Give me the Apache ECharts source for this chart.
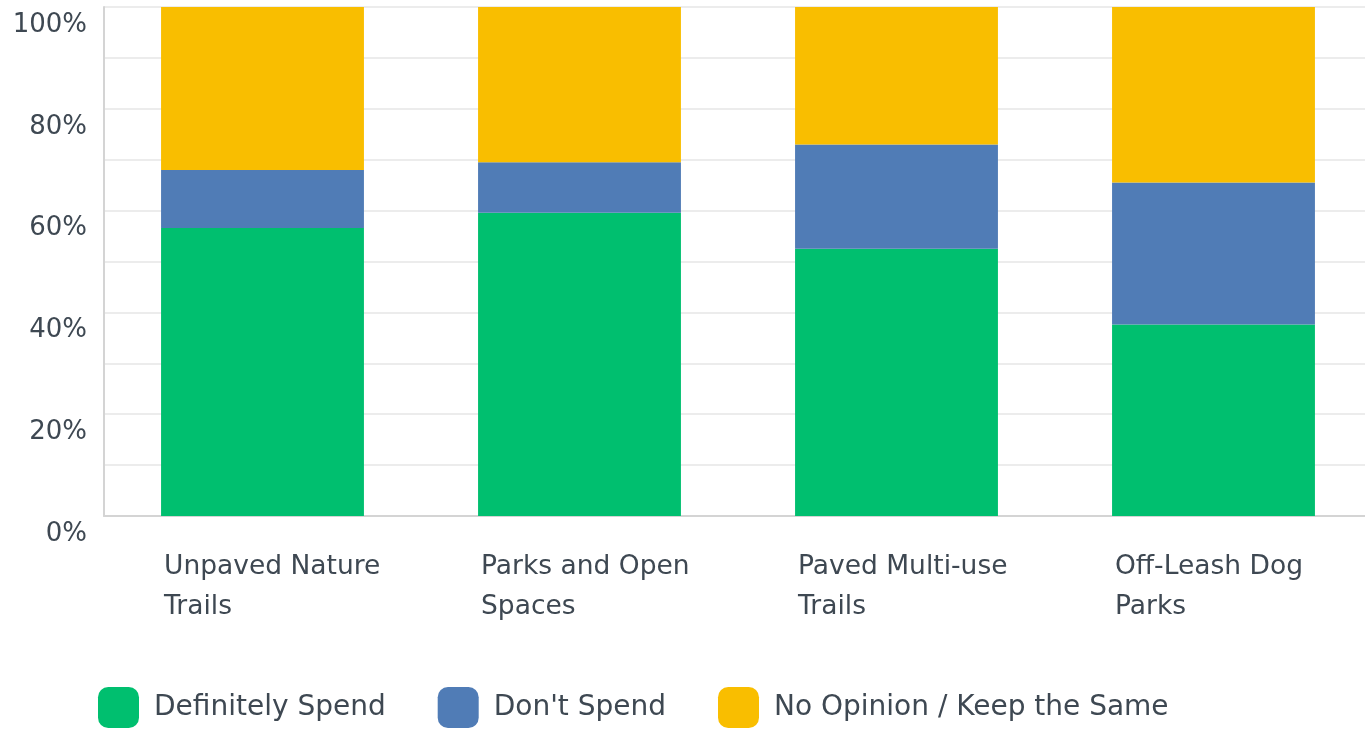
<!DOCTYPE html>
<html><head><meta charset="utf-8">
<script src="https://cdn.jsdelivr.net/npm/echarts@6/dist/echarts.min.js"></script>
<style>html,body{margin:0;padding:0;background:#fff}#c{width:1365px;height:732px}</style>
</head><body><div id="c"></div>
<script>
const categories = ['Unpaved Nature\nTrails', 'Parks and Open\nSpaces', 'Paved Multi-use\nTrails', 'Off-Leash Dog\nParks'];
const definitelySpend = [56.6, 59.6, 52.5, 37.6];
const dontSpend = [11.4, 9.9, 20.5, 27.9];
const noOpinion = [32.0, 30.5, 27.0, 34.5];
const seriesNames = ['Definitely Spend', "Don't Spend", 'No Opinion / Keep the Same'];
const colors = ['#00bf6f', '#507cb6', '#f9be00'];
const font = 'DejaVu Sans';
const txt = '#3e4852';

const chart = echarts.init(document.getElementById('c'));
const mk = (name, data, color) => ({
  name, type: 'bar', stack: 'all', data, barCategoryGap: '36%',
  itemStyle: { color }, emphasis: { disabled: true }
});
chart.setOption({
  animation: false,
  grid: { left: 104, width: 1268, top: 7, bottom: 216, containLabel: false, outerBoundsMode: 'none' },
  legend: {
    bottom: -1, left: 93, itemWidth: 41, itemHeight: 41, itemGap: 52, icon: 'roundRect',
    textStyle: { fontFamily: font, fontSize: 28, color: txt, padding: [3, 0, 0, 10] },
    data: seriesNames
  },
  xAxis: {
    type: 'category', data: categories,
    axisLine: { show: true, lineStyle: { color: '#d4d4d4', width: 2 } },
    axisTick: { show: false },
    axisLabel: {
      margin: 31, interval: 0,
      formatter: v => v.split('\n').map(s => '{a|' + s + '}').join('\n'),
      rich: { a: { width: 197, align: 'left', fontFamily: font, fontSize: 26.5, color: txt, lineHeight: 40 } }
    }
  },
  yAxis: {
    type: 'value', min: 0, max: 100, interval: 10,
    axisLine: { show: true, lineStyle: { color: '#d4d4d4', width: 2 } },
    axisTick: { show: false },
    splitLine: { lineStyle: { color: '#ececec', width: 2 } },
    axisLabel: {
      margin: 17, fontFamily: font, fontSize: 26, color: txt, verticalAlign: 'top', padding: [5, 0, 0, 0],
      formatter: v => (v % 20 === 0 ? v + '%' : '')
    }
  },
  series: [
    mk(seriesNames[0], definitelySpend, colors[0]),
    mk(seriesNames[1], dontSpend, colors[1]),
    mk(seriesNames[2], noOpinion, colors[2])
  ]
});
</script></body></html>
